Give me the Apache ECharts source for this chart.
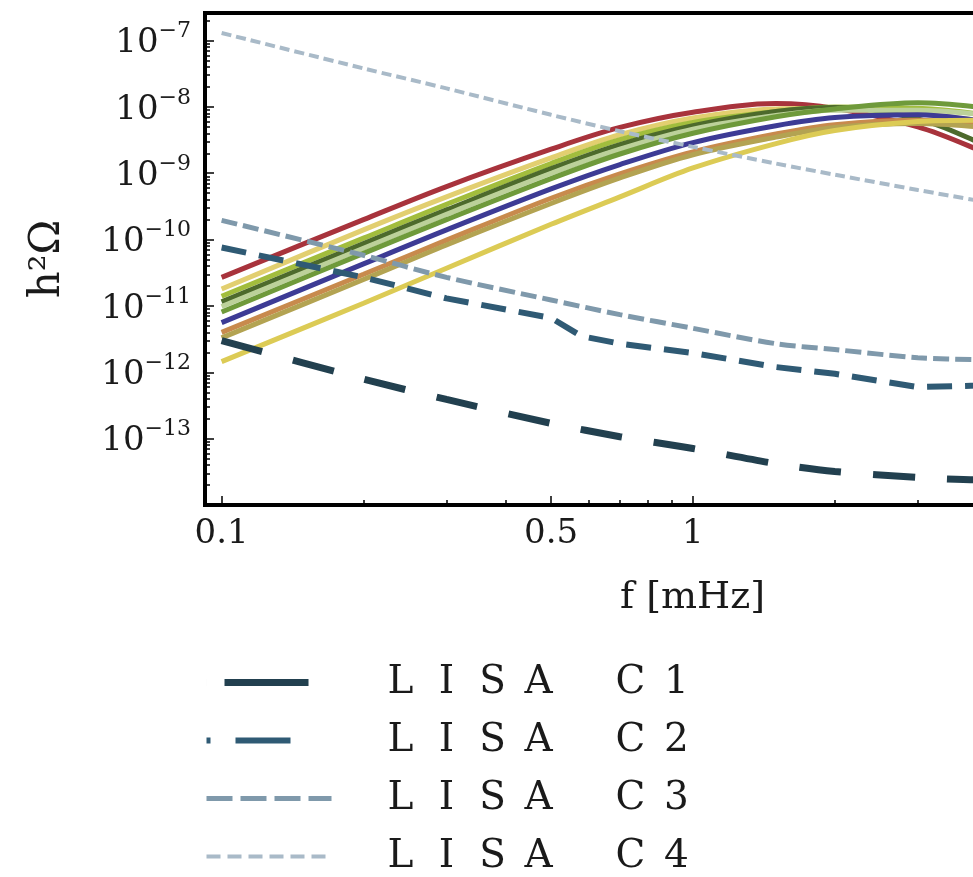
<!DOCTYPE html>
<html>
<head>
<meta charset="utf-8">
<title>h2 Omega vs f</title>
<script src="https://cdn.jsdelivr.net/npm/echarts@6/dist/echarts.min.js"></script>
<style>
  html, body { margin: 0; padding: 0; background: #fff; overflow: hidden; }
  #main { width: 1200px; height: 920px; }
</style>
</head>
<body>
<div id="main"></div>
<script type="text/javascript">
// frequencies, mHz
var freq   = [0.1, 0.2, 0.3, 0.5, 0.7, 1, 1.5, 2, 3, 4, 5];
var freqC2 = [0.1, 0.2, 0.3, 0.5, 0.58, 0.7, 1, 1.5, 2, 3, 4, 5];

// signal spectra h^2 Omega
var sigRed     = [2.7e-11, 2.0e-10, 6.3e-10, 2.3e-9, 4.9e-9, 8.3e-9, 1.12e-8, 9.5e-9, 5.0e-9, 2.3e-9, 1.1e-9];
var sigPaleYel = [1.8e-11, 1.4e-10, 4.4e-10, 1.7e-9, 3.8e-9, 6.8e-9, 9.3e-9, 9.5e-9, 7.9e-9, 6.3e-9, 4.8e-9];
var sigYelGrn  = [1.4e-11, 1.05e-10, 3.4e-10, 1.4e-9, 3.2e-9, 5.8e-9, 8.5e-9, 1.0e-8, 9.5e-9, 7.9e-9, 6.0e-9];
var sigOlive   = [1.15e-11, 8.7e-11, 2.8e-10, 1.17e-9, 2.7e-9, 5.2e-9, 8.5e-9, 9.8e-9, 6.6e-9, 3.0e-9, 1.4e-9];
var sigPaleGrn = [9.8e-12, 7.4e-11, 2.4e-10, 1.0e-9, 2.3e-9, 4.6e-9, 7.4e-9, 8.9e-9, 8.9e-9, 7.8e-9, 6.3e-9];
var sigGreen   = [8.1e-12, 6.2e-11, 2.0e-10, 8.3e-10, 1.95e-9, 4.0e-9, 7.1e-9, 9.3e-9, 1.15e-8, 1.0e-8, 7.9e-9];
var sigBlue    = [5.6e-12, 4.3e-11, 1.4e-10, 5.8e-10, 1.35e-9, 2.9e-9, 5.2e-9, 6.9e-9, 7.6e-9, 6.3e-9, 5.0e-9];
var sigOrange  = [4.0e-12, 3.0e-11, 9.8e-11, 4.2e-10, 9.8e-10, 2.1e-9, 3.9e-9, 5.4e-9, 6.3e-9, 5.5e-9, 4.5e-9];
var sigKhaki   = [3.3e-12, 2.5e-11, 8.3e-11, 3.5e-10, 8.5e-10, 1.9e-9, 3.5e-9, 4.9e-9, 5.6e-9, 5.0e-9, 4.2e-9];
var sigYellow  = [1.45e-12, 1.1e-11, 3.7e-11, 1.7e-10, 4.4e-10, 1.2e-9, 2.8e-9, 4.4e-9, 6.0e-9, 6.3e-9, 5.8e-9];

// LISA sensitivity curves
var lisaC1 = [3.0e-12, 7.9e-13, 3.9e-13, 1.7e-13, 1.07e-13, 7.1e-14, 4.2e-14, 3.2e-14, 2.6e-14, 2.4e-14, 2.4e-14];
var lisaC2 = [7.6e-11, 2.7e-11, 1.3e-11, 6.6e-12, 3.5e-12, 2.7e-12, 1.95e-12, 1.2e-12, 9.5e-13, 6.0e-13, 6.3e-13, 7.1e-13];
var lisaC3 = [1.95e-10, 5.8e-11, 2.7e-11, 1.23e-11, 7.4e-12, 4.6e-12, 2.7e-12, 2.2e-12, 1.66e-12, 1.55e-12, 1.5e-12];
var lisaC4 = [1.3e-7, 3.8e-8, 1.9e-8, 7.6e-9, 4.3e-9, 2.5e-9, 1.4e-9, 9.5e-10, 5.6e-10, 3.9e-10, 3.0e-10];

// tick labels
var xTickLabels = [0.1, 0.5, 1, 5, 10];
var yTickLabels = [1e-13, 1e-12, 1e-11, 1e-10, 1e-9, 1e-8, 1e-7];

var signals = [
  {name: 's1',  data: sigRed,     color: '#a8333c'},
  {name: 's2',  data: sigPaleYel, color: '#e2cf70'},
  {name: 's3',  data: sigYelGrn,  color: '#a2bd3d'},
  {name: 's4',  data: sigOlive,   color: '#4d6a2c'},
  {name: 's5',  data: sigPaleGrn, color: '#bcd19a'},
  {name: 's6',  data: sigGreen,   color: '#6f9a3b'},
  {name: 's7',  data: sigBlue,    color: '#3d3b95'},
  {name: 's8',  data: sigOrange,  color: '#c88a4d'},
  {name: 's9',  data: sigKhaki,   color: '#b3a352'},
  {name: 's10', data: sigYellow,  color: '#dccb55'}
];

var lisa = [
  {name: 'LISA C1', f: freq,   data: lisaC1, color: '#22404f', width: 7, dash: [42, 32], smooth: 0.3},
  {name: 'LISA C2', f: freqC2, data: lisaC2, color: '#2f5a74', width: 6, dash: [25, 13], smooth: false},
  {name: 'LISA C3', f: freq,   data: lisaC3, color: '#7f99ab', width: 5, dash: [16, 6],  smooth: 0.3},
  {name: 'LISA C4', f: freq,   data: lisaC4, color: '#a9bac8', width: 4, dash: [10, 5],  smooth: 0.3}
];

function pairs(f, v) {
  var out = [];
  for (var i = 0; i < v.length; i++) out.push([f[i], v[i]]);
  return out;
}

// minor ticks at 2..9 of each decade
var xMinor = [], yMinor = [];
for (var d = -2; d <= 1; d++) {
  for (var k = 2; k <= 9; k++) xMinor.push(k * Math.pow(10, d));
}
for (var e = -14; e <= -7; e++) {
  for (var k2 = 2; k2 <= 9; k2++) yMinor.push(k2 * Math.pow(10, e));
}

var serif = 'DejaVu Serif';
var series = [];
signals.forEach(function (s) {
  series.push({
    name: s.name, type: 'line', data: pairs(freq, s.data),
    showSymbol: false, symbol: 'none', smooth: 0.35,
    lineStyle: {color: s.color, width: 5}
  });
});
lisa.forEach(function (s) {
  series.push({
    name: s.name, type: 'line', data: pairs(s.f, s.data),
    showSymbol: false, symbol: 'none', smooth: s.smooth, color: s.color,
    lineStyle: {color: s.color, width: s.width, type: s.dash, cap: 'butt'}
  });
});

var legendNames = ['LISA C1', 'LISA C2', 'LISA C3', 'LISA C4'];
var legendDash = [[0.01, 18, 84, 60], [4, 25, 55, 60], [26, 8], [14, 7]];

var myChart = echarts.init(document.getElementById('main'));
var option = {
  animation: false,
  backgroundColor: '#fff',
  grid: {
    left: 205, top: 13, width: 975, height: 492,
    show: true, borderColor: '#000', borderWidth: 4,
    containLabel: false, outerBoundsMode: 'none'
  },
  legend: {
    orient: 'vertical', left: 203, top: 663, padding: 0,
    itemWidth: 125, itemHeight: 14, itemGap: 19,
    selectedMode: false,
    itemStyle: {opacity: 0},
    data: legendNames.map(function (n, i) {
      return {name: n, lineStyle: {type: legendDash[i], width: lisa[i].width, cap: 'butt'}};
    }),
    formatter: function (name) {
      var s = '{p|\u00a0}';
      for (var i = 0; i < name.length; i++) {
        var ch = name.charAt(i) === ' ' ? '\u00a0' : name.charAt(i);
        s += '{c|' + ch + '}';
      }
      return s;
    },
    textStyle: {
      rich: {
        p: {width: 41, fontSize: 38, lineHeight: 40},
        c: {width: 46, align: 'center', fontFamily: serif, fontSize: 39, lineHeight: 40, color: '#1a1a1a'}
      }
    }
  },
  xAxis: [{
    type: 'log', logBase: 10, min: 0.0922, max: 10.8,
    name: 'f [mHz]', nameLocation: 'middle', nameGap: 74,
    nameTextStyle: {fontFamily: serif, fontSize: 38, color: '#1a1a1a'},
    axisLine: {show: true, lineStyle: {color: '#000', width: 4}},
    axisTick: {show: true, inside: true, length: 9, customValues: xTickLabels, lineStyle: {color: '#000', width: 1.5}},
    axisLabel: {
      show: true, margin: 12, customValues: xTickLabels,
      fontFamily: serif, fontSize: 34, color: '#1a1a1a',
      formatter: function (v) { return String(+v.toPrecision(3)); }
    },
    splitLine: {show: false}, minorTick: {show: false}
  }, {
    type: 'log', logBase: 10, min: 0.0922, max: 10.8, position: 'bottom', offset: 0,
    axisLine: {show: false},
    axisTick: {show: true, inside: true, length: 5, customValues: xMinor, lineStyle: {color: '#000', width: 1.5}},
    axisLabel: {show: false},
    splitLine: {show: false}
  }],
  yAxis: [{
    type: 'log', logBase: 10, min: 1e-14, max: 2.6e-7,
    name: 'h\u00b2\u03a9', nameLocation: 'middle', nameGap: 136, nameRotate: 90,
    nameTextStyle: {fontFamily: serif, fontSize: 42, color: '#1a1a1a'},
    axisLine: {show: true, lineStyle: {color: '#000', width: 4}},
    axisTick: {show: true, inside: true, length: 9, customValues: yTickLabels, lineStyle: {color: '#000', width: 1.5}},
    axisLabel: {
      show: true, margin: 14, customValues: yTickLabels,
      formatter: function (v) {
        var ex = Math.round(Math.log(v) / Math.LN10);
        return '{b|10}{s|\u2212' + (-ex) + '}';
      },
      rich: {
        b: {fontFamily: serif, fontSize: 34, lineHeight: 40, verticalAlign: 'bottom', color: '#1a1a1a'},
        s: {fontFamily: serif, fontSize: 22, lineHeight: 22, verticalAlign: 'top', color: '#1a1a1a'}
      }
    },
    splitLine: {show: false}, minorTick: {show: false}
  }, {
    type: 'log', logBase: 10, min: 1e-14, max: 2.6e-7, position: 'left', offset: 0,
    axisLine: {show: false},
    axisTick: {show: true, inside: true, length: 5, customValues: yMinor, lineStyle: {color: '#000', width: 1.5}},
    axisLabel: {show: false},
    splitLine: {show: false}
  }],
  series: series
};
myChart.setOption(option);
</script>
</body>
</html>
